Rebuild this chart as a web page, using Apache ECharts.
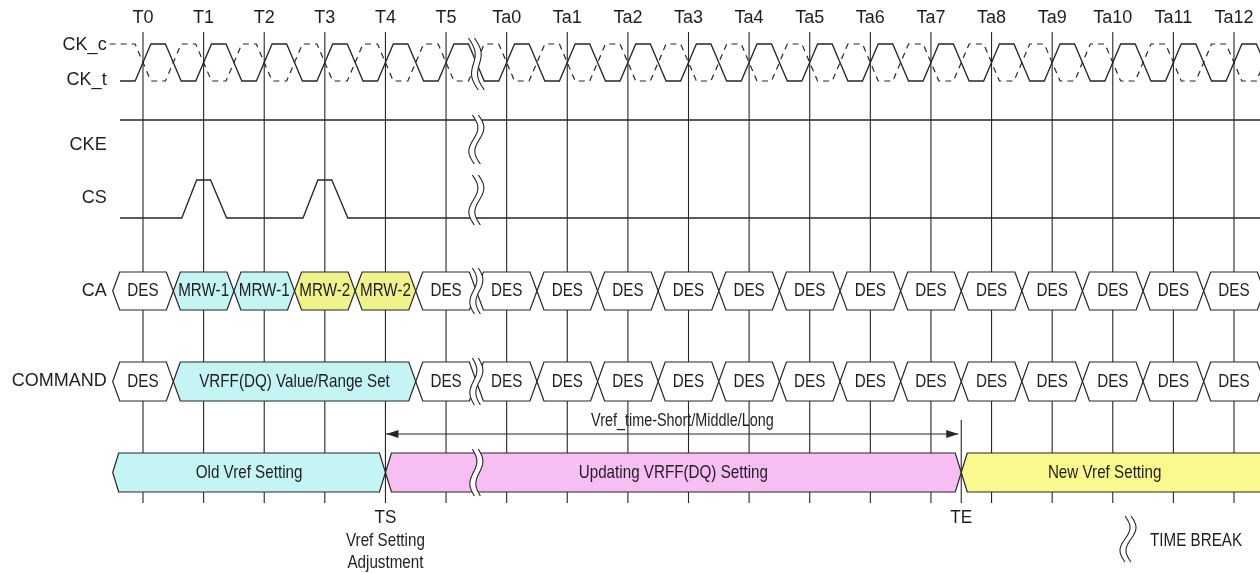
<!DOCTYPE html>
<html><head><meta charset="utf-8">
<script src="https://cdn.jsdelivr.net/npm/echarts@6/dist/echarts.min.js"></script>
<style>html,body{margin:0;padding:0;background:#fff}#c{width:1260px;height:573px}</style>
</head><body><div id="c"></div>
<script>
// ---------------- data ----------------
const clockLabels = ['T0','T1','T2','T3','T4','T5','Ta0','Ta1','Ta2','Ta3','Ta4','Ta5','Ta6','Ta7','Ta8','Ta9','Ta10','Ta11','Ta12'];
const signalNames = ['CK_c','CK_t','CKE','CS','CA','COMMAND'];
const csHigh = [0,1,0,1,0,0,0,0,0,0,0,0,0,0,0,0,0,0,0];
const caValues = ['DES','MRW-1','MRW-1','MRW-2','MRW-2','DES','DES','DES','DES','DES','DES','DES','DES','DES','DES','DES','DES','DES','DES'];
const commandNames = ['DES','VRFF(DQ) Value/Range Set','DES','DES','DES','DES','DES','DES','DES','DES','DES','DES','DES','DES','DES','DES'];
const commandSpans = [1,4,1,1,1,1,1,1,1,1,1,1,1,1,1,1];
const vrefPhases = ['Old Vref Setting','Updating VRFF(DQ) Setting','New Vref Setting'];
const vrefBounds = [-0.5, 4, 13.5, 19];   // in clock units: start, TS, TE, end
const timeBreakAt = 5.5;                  // between T5 and Ta0
const markerNames = ['TS','TE'];
const markerAt = [4, 13.5];
const markerNotes = [['Vref Setting','Adjustment'], []];
const arrowLabel = 'Vref_time-Short/Middle/Long';
const legendLabel = 'TIME BREAK';

// ---------------- styles / layout ----------------
const LINE = '#262626', TXT = '#1e1e1e';
const fills = {'DES':'#ffffff','MRW-1':'#c4f4f4','MRW-2':'#f2f28c','VRFF(DQ) Value/Range Set':'#c4f4f4'};
const phaseFills = ['#c4f4f4','#f6bef3','#f9f98e'];
const FR = '18px "Liberation Sans", Arial, sans-serif';
const FN = '19px "Liberation Sans", Arial, sans-serif';
const FA = '18px "Liberation Sans", Arial, sans-serif';
const NARROW = 0.8;
const Y = {label:18, gTop:32, gBot:503, clkHi:44, clkLo:81, cke:120, csHi:180, csLo:218,
  caT:272, caB:310, cmT:362, cmB:401, arrow:434, barT:453, barB:492, teT:420};
const labelY = [45, 80, 145, 198, 291, 381];

function txt(x, y, s, font, align, sx) {
  return {type:'text', x:x, y:y, scaleX:sx||1, scaleY:1,
    style:{text:s, font:font, fill:TXT,
    align:align||'center', verticalAlign:'middle', textAlign:align||'center', textVerticalAlign:'middle'}};
}
function hex(x1, x2, yt, yb, s, fill) {
  const ym = (yt+yb)/2;
  return {type:'polygon', shape:{points:[[x1,ym],[x1+s,yt],[x2-s,yt],[x2,ym],[x2-s,yb],[x1+s,yb]]},
    style:{fill:fill, stroke:LINE, lineWidth:1.2}};
}
function timeBreak(cx, yt, yb, skew, amp) {
  const N = 30, w1 = [], w2 = [];
  for (let k = 0; k <= N; k++) {
    const t = k/N;
    const x = cx + skew*(t-0.5) + amp*Math.sin(2*Math.PI*t);
    const y = yt + (yb-yt)*t;
    w1.push([x-3, y]); w2.push([x+3, y]);
  }
  return [
    {type:'polygon', shape:{points:w1.concat(w2.slice().reverse())}, style:{fill:'#fff', stroke:null}},
    {type:'polyline', shape:{points:w1}, style:{stroke:LINE, fill:null, lineWidth:1.1}},
    {type:'polyline', shape:{points:w2}, style:{stroke:LINE, fill:null, lineWidth:1.1}}
  ];
}

function renderAll(params, api) {
  const px = v => api.coord([v, 0])[0];
  const py = v => api.coord([0, v])[1];
  const ch = [];
  const n = clockLabels.length;
  // vertical clock lines + labels
  for (let i = 0; i < n; i++) {
    ch.push({type:'line', shape:{x1:px(i), y1:py(Y.gTop), x2:px(i), y2:py(Y.gBot)}, style:{stroke:LINE, lineWidth:1.1}});
    ch.push(txt(px(i), py(Y.label), clockLabels[i], FR));
  }
  // signal names
  signalNames.forEach((s, k) => ch.push(txt(px(-0.6), py(labelY[k]), s, FR, 'right')));
  // clocks
  const e = 0.13;
  const ckt = [[px(-0.38), py(Y.clkLo)]], ckc = [[px(-0.55), py(Y.clkHi)]];
  for (let i = 0; i <= n; i++) {
    ckt.push([px(i-e),py(Y.clkLo)],[px(i+e),py(Y.clkHi)],[px(i+0.5-e),py(Y.clkHi)],[px(i+0.5+e),py(Y.clkLo)]);
    ckc.push([px(i-e),py(Y.clkHi)],[px(i+e),py(Y.clkLo)],[px(i+0.5-e),py(Y.clkLo)],[px(i+0.5+e),py(Y.clkHi)]);
  }
  ch.push({type:'polyline', shape:{points:ckc}, style:{stroke:LINE, fill:null, lineWidth:1.2, lineDash:[6,5]}});
  ch.push({type:'polyline', shape:{points:ckt}, style:{stroke:LINE, fill:null, lineWidth:1.3}});
  // CKE
  ch.push({type:'line', shape:{x1:px(-0.38), y1:py(Y.cke), x2:px(n), y2:py(Y.cke)}, style:{stroke:LINE, lineWidth:1.3}});
  // CS
  const cs = [[px(-0.38), py(Y.csLo)]];
  csHigh.forEach((h, i) => { if (h) cs.push([px(i-0.36),py(Y.csLo)],[px(i-0.115),py(Y.csHi)],[px(i+0.115),py(Y.csHi)],[px(i+0.38),py(Y.csLo)]); });
  cs.push([px(n), py(Y.csLo)]);
  ch.push({type:'polyline', shape:{points:cs}, style:{stroke:LINE, fill:null, lineWidth:1.3}});
  // CA cells
  caValues.forEach((v, i) => {
    ch.push(hex(px(i-0.5), px(i+0.5), py(Y.caT), py(Y.caB), 7, fills[v]));
    ch.push(txt(px(i), py((Y.caT+Y.caB)/2), v, FN, 'center', NARROW));
  });
  // COMMAND cells
  let c = -0.5;
  commandNames.forEach((v, i) => {
    const a = c, b = c + commandSpans[i];
    ch.push(hex(px(a), px(b), py(Y.cmT), py(Y.cmB), 7, fills[v]));
    ch.push(txt((px(a)+px(b))/2, py((Y.cmT+Y.cmB)/2), v, FN, 'center', NARROW));
    c = b;
  });
  // arrow + TE line
  const xa = px(markerAt[0]), xb = px(markerAt[1]);
  ch.push({type:'line', shape:{x1:xb, y1:py(Y.teT), x2:xb, y2:py(Y.gBot)}, style:{stroke:LINE, lineWidth:1.1}});
  const ya = py(Y.arrow);
  ch.push({type:'line', shape:{x1:xa, y1:ya, x2:xb-3, y2:ya}, style:{stroke:LINE, lineWidth:1.1}});
  ch.push({type:'polygon', shape:{points:[[xa+1,ya],[xa+13,ya-4],[xa+13,ya+4]]}, style:{fill:LINE}});
  ch.push({type:'polygon', shape:{points:[[xb-3,ya],[xb-15,ya-4],[xb-15,ya+4]]}, style:{fill:LINE}});
  ch.push(txt(px(8.9), py(Y.arrow-13), arrowLabel, FA, 'center', NARROW));
  // Vref phases bar
  vrefPhases.forEach((p, k) => {
    const a = px(vrefBounds[k]), b = px(vrefBounds[k+1]);
    ch.push(hex(a, b, py(Y.barT), py(Y.barB), 6, phaseFills[k]));
    const cx = k === 2 ? (a + Math.min(b, 1248))/2 : (a+b)/2;
    ch.push(txt(cx, py((Y.barT+Y.barB)/2), p, FN, 'center', NARROW));
  });
  // time breaks
  const xbk = px(timeBreakAt);
  [[38,90,10,4],[115,164,2,5],[175,225,2,5],[268,314,2,4],[358,405,2,4],[449,496,2,4]].forEach(r => {
    timeBreak(xbk, py(r[0]), py(r[1]), r[2], r[3]).forEach(el => ch.push(el));
  });
  // markers
  markerNames.forEach((m, k) => {
    const x = px(markerAt[k]);
    ch.push(txt(x, py(518), m, FN, 'center', 0.9));
    markerNotes[k].forEach((s, j) => ch.push(txt(x, py(541 + 22*j), s, FN, 'center', NARROW)));
  });
  // legend
  timeBreak(1128, 516, 562, 0, 5).forEach(el => ch.push(el));
  ch.push(txt(1150, 541, legendLabel, FN, 'left', NARROW));
  return {type:'group', children:ch};
}

const chart = echarts.init(document.getElementById('c'), null, {renderer:'canvas'});
chart.setOption({
  animation:false,
  backgroundColor:'#fff',
  grid:{left:143, right:26, top:0, bottom:0},
  xAxis:{type:'value', min:0, max:18, show:false},
  yAxis:{type:'value', min:0, max:573, inverse:true, show:false},
  series:[{type:'custom', renderItem:renderAll, data:[[0,0]], clip:false, silent:true}]
});
</script></body></html>
